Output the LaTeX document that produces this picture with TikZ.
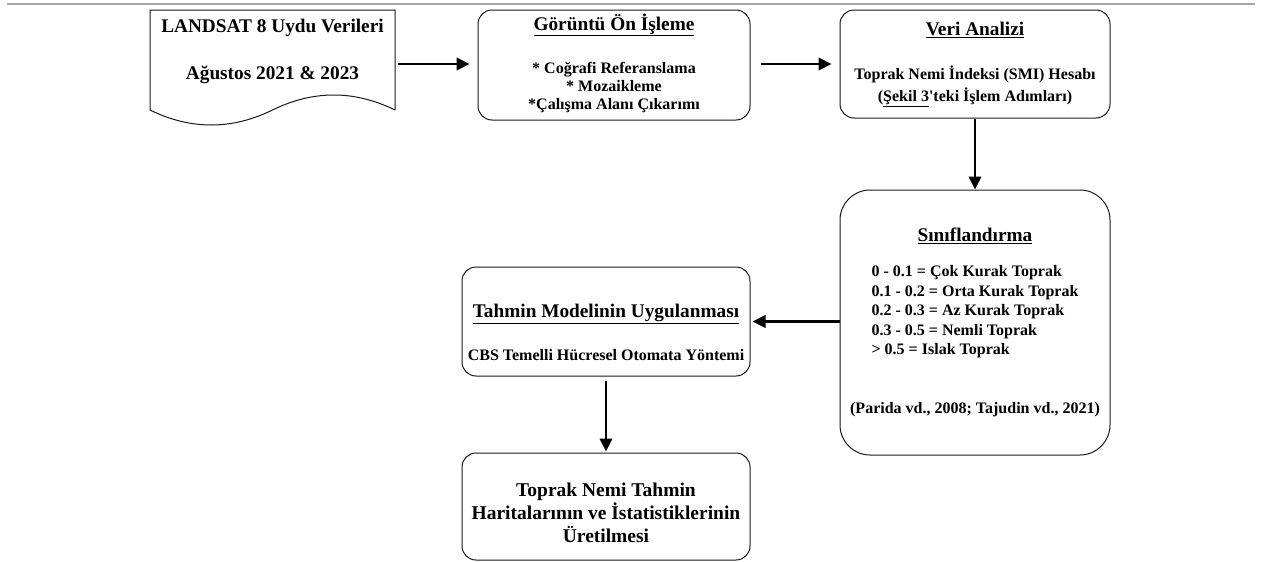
\documentclass[tikz,border=0pt]{standalone}
\usepackage{fontspec}
\setmainfont{Liberation Serif}
\usetikzlibrary{arrows.meta}
\begin{document}
\begin{tikzpicture}[x=1pt,y=-1pt,
  box/.style={draw=black!90, line width=1pt, rounded corners=14pt, inner sep=0pt},
  conn/.style={line width=2.3pt, -{Triangle[length=13pt,width=12.5pt]}},
  ttl/.style={font=\bfseries\fontsize{19.3}{23}\selectfont, inner sep=0pt},
  txt/.style={font=\bfseries\fontsize{16}{18}\selectfont, inner sep=0pt, align=center},
  big/.style={font=\bfseries\fontsize{19.5}{23}\selectfont, inner sep=0pt, align=center}
]
\useasboundingbox (0,0) rectangle (1262,562);
\fill[white] (0,0) rectangle (1262,562);
% top rule
\draw[gray!70, line width=2pt] (7,3.5) -- (1255,3.5);

% source document shape
\node[inner sep=0pt, minimum width=245pt, minimum height=108pt] (src) at (272.5,64) {};
\draw[black!90, line width=1pt] (395,110) -- (395,10) -- (150,10) -- (150,110)
  .. controls (190.8,130) and (231.7,130) .. (272.5,110)
  .. controls (313.3,90) and (354.2,90) .. (395,110);
\node[ttl] (srcA) at (272.5,28) {LANDSAT 8 Uydu Verileri};
\node[ttl] (srcB) at (272.5,75) {Ağustos 2021 \& 2023};

% preprocessing
\node[box, minimum width=272pt, minimum height=110pt] (pre) at (614,65) {};
\node[ttl] (preT) at (614,25) {\underline{Görüntü Ön İşleme}};
\node[txt] (preB) at (614,88) {* Coğrafi Referanslama\\* Mozaikleme\\*Çalışma Alanı Çıkarımı};

% analysis
\node[box, minimum width=270pt, minimum height=108pt] (ana) at (975,64) {};
\node[ttl] (anaT) at (975,30) {\underline{Veri Analizi}};
\node[txt, font=\bfseries\fontsize{16}{22}\selectfont] (anaB) at (975,86) {Toprak Nemi İndeksi (SMI) Hesabı\\(\underline{Şekil 3}\textquotesingle teki İşlem Adımları)};

% classification
\node[box, rounded corners=30pt, minimum width=270pt, minimum height=265pt] (cls) at (975,322.5) {};
\node[ttl] (clsT) at (975,236) {\underline{Sınıflandırma}};
\node[txt, align=left, font=\bfseries\fontsize{16}{19.5}\selectfont] (clsB) at (975,312) {0 - 0.1 = Çok Kurak Toprak\\0.1 - 0.2 = Orta Kurak Toprak\\0.2 - 0.3 = Az Kurak Toprak\\0.3 - 0.5 = Nemli Toprak\\> 0.5 = Islak Toprak};
\node[txt] (clsR) at (975,410) {(Parida vd., 2008; Tajudin vd., 2021)};

% model
\node[box, minimum width=288pt, minimum height=109pt] (tah) at (606,321.5) {};
\node[ttl] (tahT) at (606,314) {\underline{Tahmin Modelinin Uygulanması}};
\node[txt] (tahB) at (606,355) {CBS Temelli Hücresel Otomata Yöntemi};

% output
\node[box, minimum width=288pt, minimum height=107pt] (out) at (606,506.5) {};
\node[big] (outT) at (606,513) {Toprak Nemi Tahmin\\Haritalarının ve İstatistiklerinin\\Üretilmesi};

% connectors
\draw[conn, shorten <=3pt, shorten >=8pt] (src.east) -- (src.east -| pre.west);
\draw[conn, shorten <=10pt, shorten >=8pt] (pre.east |- ana.west) -- (ana.west);
\draw[conn] (ana.south) -- (cls.north);
\draw[conn, shorten >=2pt] (cls.west |- tah.east) -- (tah.east);
\draw[conn, shorten <=4pt, shorten >=1pt] (tah.south) -- (out.north);
\end{tikzpicture}
\end{document}
